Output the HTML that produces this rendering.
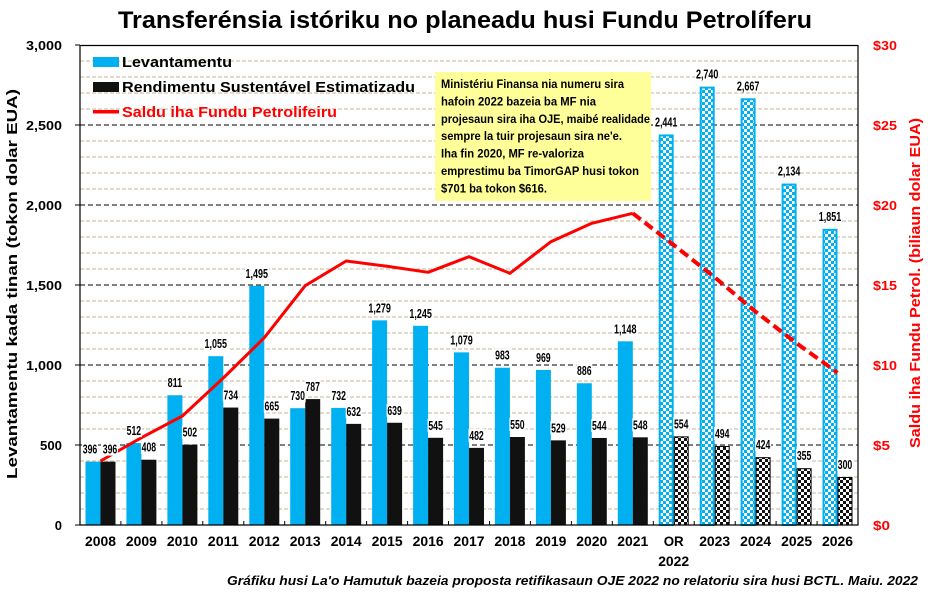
<!DOCTYPE html>
<html>
<head>
<meta charset="utf-8">
<style>
html,body{margin:0;padding:0;background:#fff;}
svg{display:block;}
text{font-family:"Liberation Sans",sans-serif;}
</style>
</head>
<body>
<svg width="928" height="593" viewBox="0 0 928 593" xmlns="http://www.w3.org/2000/svg">
<defs>
<pattern id="pb" width="6" height="6" patternUnits="userSpaceOnUse"><rect width="6" height="6" fill="#fff"/><rect width="3" height="3" fill="#00b0f0"/><rect x="3" y="3" width="3" height="3" fill="#00b0f0"/></pattern>
<pattern id="pk" width="6" height="6" patternUnits="userSpaceOnUse"><rect width="6" height="6" fill="#fff"/><rect width="3" height="3" fill="#111"/><rect x="3" y="3" width="3" height="3" fill="#111"/></pattern>
</defs>
<rect width="928" height="593" fill="#fff"/>

<!-- Title -->
<text x="118" y="28" font-size="24" font-weight="bold" textLength="694" lengthAdjust="spacingAndGlyphs" fill="#000">Transferénsia istóriku no planeadu husi Fundu Petrolíferu</text>

<!-- minor gridlines -->
<path d="M80 509H858M80 493H858M80 477H858M80 461H858M80 429H858M80 413H858M80 397H858M80 381H858M80 349H858M80 333H858M80 317H858M80 301H858M80 269H858M80 253H858M80 237H858M80 221H858M80 189H858M80 173H858M80 157H858M80 141H858M80 109H858M80 93H858M80 77H858M80 61H858" stroke="#c6b796" stroke-width="1" stroke-dasharray="4 2" fill="none"/>
<!-- major gridlines -->
<path d="M80 445H858M80 365H858M80 285H858M80 205H858M80 125H858" stroke="#000" stroke-width="1" stroke-dasharray="5 3" fill="none"/>

<!-- Annotation box -->
<rect x="435" y="72" width="216" height="129" fill="#ffff99"/>
<g font-size="12" font-weight="bold" fill="#000">
<text x="441" y="88" textLength="183" lengthAdjust="spacingAndGlyphs">Ministériu Finansa nia numeru sira</text>
<text x="441" y="105.4" textLength="155" lengthAdjust="spacingAndGlyphs">hafoin 2022  bazeia ba MF nia</text>
<text x="441" y="122.8" textLength="209" lengthAdjust="spacingAndGlyphs">projesaun sira iha OJE, maibé realidade</text>
<text x="441" y="140.2" textLength="181" lengthAdjust="spacingAndGlyphs">sempre la tuir projesaun sira ne'e.</text>
<text x="441" y="157.6" textLength="143" lengthAdjust="spacingAndGlyphs">Iha fin 2020,  MF re-valoriza</text>
<text x="441" y="175" textLength="198" lengthAdjust="spacingAndGlyphs">emprestimu ba TimorGAP husi tokon</text>
<text x="441" y="192.4" textLength="106" lengthAdjust="spacingAndGlyphs">$701  ba tokon $616.</text>
</g>

<!-- Historic bars: blue -->
<g fill="#00b0f0">
<rect x="85.5" y="461.64" width="15" height="63.36"/>
<rect x="126.4" y="443.08" width="15" height="81.92"/>
<rect x="167.4" y="395.24" width="15" height="129.76"/>
<rect x="208.3" y="356.2" width="15" height="168.8"/>
<rect x="249.3" y="285.8" width="15" height="239.2"/>
<rect x="290.2" y="408.2" width="15" height="116.8"/>
<rect x="331.2" y="407.88" width="15" height="117.12"/>
<rect x="372.1" y="320.36" width="15" height="204.64"/>
<rect x="413.1" y="325.8" width="15" height="199.2"/>
<rect x="454" y="352.36" width="15" height="172.64"/>
<rect x="494.9" y="367.72" width="15" height="157.28"/>
<rect x="535.9" y="369.96" width="15" height="155.04"/>
<rect x="576.8" y="383.24" width="15" height="141.76"/>
<rect x="617.8" y="341.32" width="15" height="183.68"/>
</g>
<!-- Historic bars: black -->
<g fill="#111">
<rect x="100.5" y="461.64" width="15" height="63.36"/>
<rect x="141.4" y="459.72" width="15" height="65.28"/>
<rect x="182.4" y="444.68" width="15" height="80.32"/>
<rect x="223.3" y="407.56" width="15" height="117.44"/>
<rect x="264.3" y="418.6" width="15" height="106.4"/>
<rect x="305.2" y="399.08" width="15" height="125.92"/>
<rect x="346.2" y="423.88" width="15" height="101.12"/>
<rect x="387.1" y="422.76" width="15" height="102.24"/>
<rect x="428.1" y="437.8" width="15" height="87.2"/>
<rect x="469" y="447.88" width="15" height="77.12"/>
<rect x="509.9" y="437" width="15" height="88"/>
<rect x="550.9" y="440.36" width="15" height="84.64"/>
<rect x="591.8" y="437.96" width="15" height="87.04"/>
<rect x="632.8" y="437.32" width="15" height="87.68"/>
</g>
<!-- Forecast bars: blue checker -->
<g fill="url(#pb)" stroke="#00b0f0" stroke-width="2">
<rect x="659.7" y="135.44" width="13" height="389.56"/>
<rect x="700.7" y="87.6" width="13" height="437.4"/>
<rect x="741.6" y="99.28" width="13" height="425.72"/>
<rect x="782.6" y="184.56" width="13" height="340.44"/>
<rect x="823.5" y="229.84" width="13" height="295.16"/>
</g>
<!-- Forecast bars: black checker -->
<g fill="url(#pk)" stroke="#000" stroke-width="1">
<rect x="674.2" y="436.86" width="14" height="88.14"/>
<rect x="715.2" y="446.46" width="14" height="78.54"/>
<rect x="756.1" y="457.66" width="14" height="67.34"/>
<rect x="797.1" y="468.7" width="14" height="56.3"/>
<rect x="838" y="477.5" width="14" height="47.5"/>
</g>

<!-- Saldu line -->
<polyline points="100.5,461 141.4,437.7 182.4,416 223.3,378 264.3,337.7 305.2,285.7 346.2,261 387.1,266.3 428.1,272.3 469,256.7 509.9,273.3 550.9,241.7 591.8,223.3 632.8,213.3" fill="none" stroke="#ff0000" stroke-width="3" stroke-linejoin="round"/>
<polyline points="632.8,213.3 673.7,245 714.7,277.3 755.6,311.7 796.6,343.3 837.5,372.7" fill="none" stroke="#ff0000" stroke-width="4" stroke-dasharray="10 5"/>

<!-- Data labels -->
<g font-size="13" font-weight="bold" fill="#000" text-anchor="middle">
<g fill="#fff">
<rect x="82" y="442.6" width="16" height="13"/><rect x="102" y="442.6" width="16" height="13"/>
<rect x="125.9" y="424.1" width="16" height="13"/><rect x="140.9" y="440.7" width="16" height="13"/>
<rect x="166.9" y="376.2" width="16" height="13"/><rect x="181.9" y="425.7" width="16" height="13"/>
<rect x="203.8" y="337.2" width="24" height="13"/><rect x="222.8" y="388.6" width="16" height="13"/>
<rect x="244.8" y="266.8" width="24" height="13"/><rect x="263.8" y="399.6" width="16" height="13"/>
<rect x="289.7" y="389.2" width="16" height="13"/><rect x="304.7" y="380.1" width="16" height="13"/>
<rect x="330.7" y="388.9" width="16" height="13"/><rect x="345.7" y="404.9" width="16" height="13"/>
<rect x="367.6" y="301.4" width="24" height="13"/><rect x="386.6" y="403.8" width="16" height="13"/>
<rect x="408.6" y="306.8" width="24" height="13"/><rect x="427.6" y="418.8" width="16" height="13"/>
<rect x="449.5" y="333.4" width="24" height="13"/><rect x="468.5" y="428.9" width="16" height="13"/>
<rect x="494.4" y="348.7" width="16" height="13"/><rect x="509.4" y="418" width="16" height="13"/>
<rect x="535.4" y="351" width="16" height="13"/><rect x="550.4" y="421.4" width="16" height="13"/>
<rect x="576.3" y="364.2" width="16" height="13"/><rect x="591.3" y="419" width="16" height="13"/>
<rect x="613.3" y="322.3" width="24" height="13"/><rect x="632.3" y="418.3" width="16" height="13"/>
<rect x="654.2" y="115.4" width="24" height="13"/><rect x="673.2" y="417.4" width="16" height="13"/>
<rect x="695.2" y="67.6" width="24" height="13"/><rect x="714.2" y="427" width="16" height="13"/>
<rect x="736.1" y="79.3" width="24" height="13"/><rect x="755.1" y="438.2" width="16" height="13"/>
<rect x="777.1" y="164.6" width="24" height="13"/><rect x="796.1" y="449.2" width="16" height="13"/>
<rect x="818" y="209.8" width="24" height="13"/><rect x="837" y="458" width="16" height="13"/>
</g>
<text x="90" y="453.6" textLength="14.5" lengthAdjust="spacingAndGlyphs">396</text>
<text x="110" y="453.6" textLength="14.5" lengthAdjust="spacingAndGlyphs">396</text>
<text x="133.9" y="435.1" textLength="14.5" lengthAdjust="spacingAndGlyphs">512</text>
<text x="148.9" y="451.7" textLength="14.5" lengthAdjust="spacingAndGlyphs">408</text>
<text x="174.9" y="387.2" textLength="14.5" lengthAdjust="spacingAndGlyphs">811</text>
<text x="189.9" y="436.7" textLength="14.5" lengthAdjust="spacingAndGlyphs">502</text>
<text x="215.8" y="348.2" textLength="22.5" lengthAdjust="spacingAndGlyphs">1,055</text>
<text x="230.8" y="399.6" textLength="14.5" lengthAdjust="spacingAndGlyphs">734</text>
<text x="256.8" y="277.8" textLength="22.5" lengthAdjust="spacingAndGlyphs">1,495</text>
<text x="271.8" y="410.6" textLength="14.5" lengthAdjust="spacingAndGlyphs">665</text>
<text x="297.7" y="400.2" textLength="14.5" lengthAdjust="spacingAndGlyphs">730</text>
<text x="312.7" y="391.1" textLength="14.5" lengthAdjust="spacingAndGlyphs">787</text>
<text x="338.7" y="399.9" textLength="14.5" lengthAdjust="spacingAndGlyphs">732</text>
<text x="353.7" y="415.9" textLength="14.5" lengthAdjust="spacingAndGlyphs">632</text>
<text x="379.6" y="312.4" textLength="22.5" lengthAdjust="spacingAndGlyphs">1,279</text>
<text x="394.6" y="414.8" textLength="14.5" lengthAdjust="spacingAndGlyphs">639</text>
<text x="420.6" y="317.8" textLength="22.5" lengthAdjust="spacingAndGlyphs">1,245</text>
<text x="435.6" y="429.8" textLength="14.5" lengthAdjust="spacingAndGlyphs">545</text>
<text x="461.5" y="344.4" textLength="22.5" lengthAdjust="spacingAndGlyphs">1,079</text>
<text x="476.5" y="439.9" textLength="14.5" lengthAdjust="spacingAndGlyphs">482</text>
<text x="502.4" y="359.7" textLength="14.5" lengthAdjust="spacingAndGlyphs">983</text>
<text x="517.4" y="429" textLength="14.5" lengthAdjust="spacingAndGlyphs">550</text>
<text x="543.4" y="362" textLength="14.5" lengthAdjust="spacingAndGlyphs">969</text>
<text x="558.4" y="432.4" textLength="14.5" lengthAdjust="spacingAndGlyphs">529</text>
<text x="584.3" y="375.2" textLength="14.5" lengthAdjust="spacingAndGlyphs">886</text>
<text x="599.3" y="430" textLength="14.5" lengthAdjust="spacingAndGlyphs">544</text>
<text x="625.3" y="333.3" textLength="22.5" lengthAdjust="spacingAndGlyphs">1,148</text>
<text x="640.3" y="429.3" textLength="14.5" lengthAdjust="spacingAndGlyphs">548</text>
<text x="666.2" y="126.4" textLength="22.5" lengthAdjust="spacingAndGlyphs">2,441</text>
<text x="681.2" y="428.4" textLength="14.5" lengthAdjust="spacingAndGlyphs">554</text>
<text x="707.2" y="78.6" textLength="22.5" lengthAdjust="spacingAndGlyphs">2,740</text>
<text x="722.2" y="438" textLength="14.5" lengthAdjust="spacingAndGlyphs">494</text>
<text x="748.1" y="90.3" textLength="22.5" lengthAdjust="spacingAndGlyphs">2,667</text>
<text x="763.1" y="449.2" textLength="14.5" lengthAdjust="spacingAndGlyphs">424</text>
<text x="789.1" y="175.6" textLength="22.5" lengthAdjust="spacingAndGlyphs">2,134</text>
<text x="804.1" y="460.2" textLength="14.5" lengthAdjust="spacingAndGlyphs">355</text>
<text x="830" y="220.8" textLength="22.5" lengthAdjust="spacingAndGlyphs">1,851</text>
<text x="845" y="469" textLength="14.5" lengthAdjust="spacingAndGlyphs">300</text>
</g>

<!-- Axes frame -->
<path d="M80 45V525H858V45M80 45.5H858" stroke="#000" stroke-width="1.2" fill="none"/>
<path d="M75 525H80M75 445H80M75 365H80M75 285H80M75 205H80M75 125H80M75 45H80" stroke="#000" stroke-width="1"/>
<path d="M120.9 525V521M161.9 525V521M202.8 525V521M243.8 525V521M284.7 525V521M325.7 525V521M366.6 525V521M407.6 525V521M448.5 525V521M489.5 525V521M530.4 525V521M571.4 525V521M612.3 525V521M653.3 525V521M694.2 525V521M735.2 525V521M776.1 525V521M817.1 525V521" stroke="#000" stroke-width="1"/>

<!-- Left axis labels -->
<g font-size="13" font-weight="bold" fill="#000" text-anchor="end">
<text x="62" y="530">0</text>
<text x="62" y="450" textLength="22" lengthAdjust="spacingAndGlyphs">500</text>
<text x="62" y="370" textLength="36" lengthAdjust="spacingAndGlyphs">1,000</text>
<text x="62" y="290" textLength="36" lengthAdjust="spacingAndGlyphs">1,500</text>
<text x="62" y="210" textLength="36" lengthAdjust="spacingAndGlyphs">2,000</text>
<text x="62" y="130" textLength="36" lengthAdjust="spacingAndGlyphs">2,500</text>
<text x="62" y="50" textLength="36" lengthAdjust="spacingAndGlyphs">3,000</text>
</g>
<!-- Right axis labels -->
<g font-size="13" font-weight="bold" fill="#ff0000">
<text x="873" y="530" textLength="17" lengthAdjust="spacingAndGlyphs">$0</text>
<text x="873" y="450" textLength="17" lengthAdjust="spacingAndGlyphs">$5</text>
<text x="873" y="370" textLength="24" lengthAdjust="spacingAndGlyphs">$10</text>
<text x="873" y="290" textLength="24" lengthAdjust="spacingAndGlyphs">$15</text>
<text x="873" y="210" textLength="24" lengthAdjust="spacingAndGlyphs">$20</text>
<text x="873" y="130" textLength="24" lengthAdjust="spacingAndGlyphs">$25</text>
<text x="873" y="50" textLength="24" lengthAdjust="spacingAndGlyphs">$30</text>
</g>

<!-- Axis titles -->
<text transform="translate(17,284) rotate(-90)" text-anchor="middle" font-size="15" font-weight="bold" fill="#000" textLength="390" lengthAdjust="spacingAndGlyphs">Levantamentu kada tinan (tokon dolar EUA)</text>
<text transform="translate(920,283) rotate(-90)" text-anchor="middle" font-size="15" font-weight="bold" fill="#ff0000" textLength="330" lengthAdjust="spacingAndGlyphs">Saldu iha Fundu Petrol. (biliaun dolar EUA)</text>

<!-- X labels -->
<g font-size="14" font-weight="bold" fill="#000" text-anchor="middle">
<text x="100.5" y="546" textLength="31" lengthAdjust="spacingAndGlyphs">2008</text>
<text x="141.4" y="546" textLength="31" lengthAdjust="spacingAndGlyphs">2009</text>
<text x="182.4" y="546" textLength="31" lengthAdjust="spacingAndGlyphs">2010</text>
<text x="223.3" y="546" textLength="31" lengthAdjust="spacingAndGlyphs">2011</text>
<text x="264.3" y="546" textLength="31" lengthAdjust="spacingAndGlyphs">2012</text>
<text x="305.2" y="546" textLength="31" lengthAdjust="spacingAndGlyphs">2013</text>
<text x="346.2" y="546" textLength="31" lengthAdjust="spacingAndGlyphs">2014</text>
<text x="387.1" y="546" textLength="31" lengthAdjust="spacingAndGlyphs">2015</text>
<text x="428.1" y="546" textLength="31" lengthAdjust="spacingAndGlyphs">2016</text>
<text x="469" y="546" textLength="31" lengthAdjust="spacingAndGlyphs">2017</text>
<text x="509.9" y="546" textLength="31" lengthAdjust="spacingAndGlyphs">2018</text>
<text x="550.9" y="546" textLength="31" lengthAdjust="spacingAndGlyphs">2019</text>
<text x="591.8" y="546" textLength="31" lengthAdjust="spacingAndGlyphs">2020</text>
<text x="632.8" y="546" textLength="31" lengthAdjust="spacingAndGlyphs">2021</text>
<text x="673.7" y="546" textLength="20" lengthAdjust="spacingAndGlyphs">OR</text>
<text x="673.7" y="566" textLength="31" lengthAdjust="spacingAndGlyphs">2022</text>
<text x="714.7" y="546" textLength="31" lengthAdjust="spacingAndGlyphs">2023</text>
<text x="755.6" y="546" textLength="31" lengthAdjust="spacingAndGlyphs">2024</text>
<text x="796.6" y="546" textLength="31" lengthAdjust="spacingAndGlyphs">2025</text>
<text x="837.5" y="546" textLength="31" lengthAdjust="spacingAndGlyphs">2026</text>
</g>

<!-- Legend -->
<rect x="93" y="57" width="26" height="10" fill="#00b0f0"/>
<text x="122" y="67" font-size="15" font-weight="bold" fill="#000" textLength="110" lengthAdjust="spacingAndGlyphs">Levantamentu</text>
<rect x="93" y="82" width="26" height="10" fill="#111"/>
<text x="122" y="92" font-size="15" font-weight="bold" fill="#000" textLength="293" lengthAdjust="spacingAndGlyphs">Rendimentu Sustentável Estimatizadu</text>
<rect x="93" y="110" width="26" height="3.5" fill="#ff0000"/>
<text x="122" y="117" font-size="15" font-weight="bold" fill="#ff0000" textLength="215" lengthAdjust="spacingAndGlyphs">Saldu iha Fundu Petrolifeiru</text>

<!-- Footer -->
<text x="227" y="585" font-size="13" font-weight="bold" font-style="italic" fill="#000" textLength="691" lengthAdjust="spacingAndGlyphs">Gráfiku husi La'o Hamutuk bazeia proposta retifikasaun OJE 2022 no relatoriu sira husi BCTL. Maiu. 2022</text>
</svg>
</body>
</html>
